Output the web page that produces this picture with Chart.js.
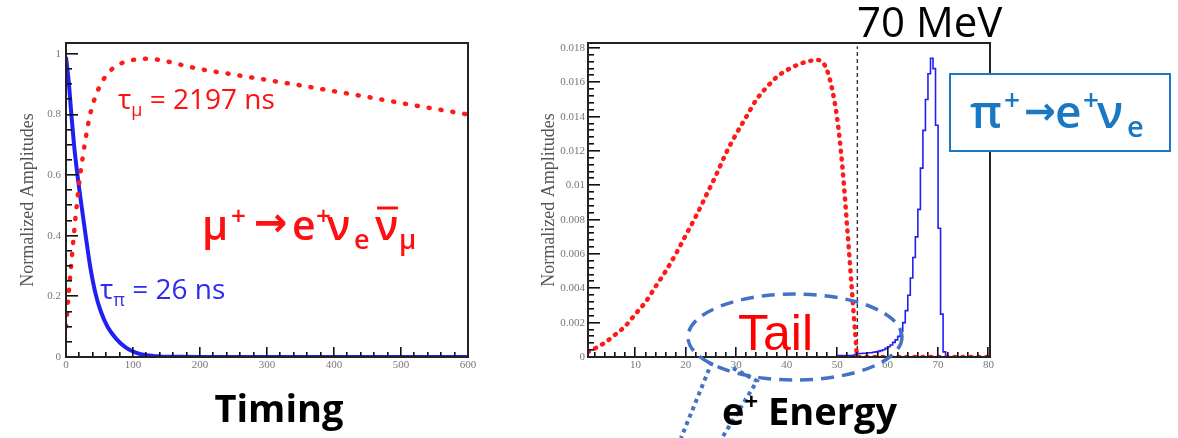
<!DOCTYPE html>
<html>
<head>
<meta charset="utf-8">
<script src="https://cdn.jsdelivr.net/npm/chart.js@4.4.1/dist/chart.umd.min.js"></script>
<style>
  html, body { margin: 0; padding: 0; background: #fff; }
  #page { position: relative; width: 1178px; height: 438px; overflow: hidden; }
  canvas { position: absolute; top: 0; }
  #timingChart { left: 0; }
  #energyChart { left: 540px; }
  #notes { position: absolute; left: 0; top: 0; }
</style>
</head>
<body>
<div id="page">
  <canvas id="timingChart" width="480" height="380"></canvas>
  <canvas id="energyChart" width="460" height="380"></canvas>
  <svg id="notes" width="1178" height="438" xmlns="http://www.w3.org/2000/svg">
    <!-- left panel labels -->
    <text x="118" y="109" font-family="Open Sans" font-size="28" fill="#ff1010">τ<tspan font-size="18" dy="7">μ</tspan><tspan dy="-7"> = 2197 ns</tspan></text>
    <text x="100" y="299" font-family="Open Sans" font-size="28" fill="#2c2cf0">τ<tspan font-size="18" dy="7">π</tspan><tspan dy="-7"> = 26 ns</tspan></text>
    <g font-family="Open Sans" font-size="41" font-weight="600" fill="#ff1010">
      <text x="202" y="240">μ</text>
      <text x="231" y="225" font-size="26">+</text>
      <text x="254" y="236" font-family="DejaVu Sans" font-weight="700" font-size="40">→</text>
      <text x="292" y="240">e</text>
      <text x="316" y="225" font-size="26">+</text>
      <text x="327" y="240">ν</text>
      <text x="354" y="249" font-size="27">e</text>
      <text x="375" y="240">ν</text>
      <text x="399" y="249" font-size="27">μ</text>
    </g>
    <line x1="377" y1="208" x2="398" y2="208" stroke="#ff1010" stroke-width="3"/>
    <text x="279" y="422" font-family="Open Sans" font-size="38" font-weight="700" fill="#000" text-anchor="middle">Timing</text>

    <!-- right panel labels -->
    <text x="857" y="37" font-family="Open Sans" font-size="42" fill="#000">70 MeV</text>
    <rect x="950" y="74" width="220" height="77" fill="#fff" stroke="#1a78c2" stroke-width="2"/>
    <g font-family="Open Sans" font-size="46" font-weight="600" fill="#1a78c2">
      <text x="970" y="128">π</text>
      <text x="1004" y="110" font-size="28">+</text>
      <text x="1024" y="124" font-family="DejaVu Sans" font-weight="700" font-size="38">→</text>
      <text x="1055" y="128">e</text>
      <text x="1083" y="110" font-size="28">+</text>
      <text x="1097" y="128">ν</text>
      <text x="1127" y="137" font-size="29">e</text>
    </g>
    <ellipse cx="795" cy="337" rx="107" ry="43" fill="none" stroke="#4472c4" stroke-width="3.5" stroke-dasharray="13 8"/>
    <text x="738" y="350" font-family="Liberation Sans" font-size="50" fill="#ff0000">Tail</text>
    <polyline points="712,362 681,438" fill="none" stroke="#4472c4" stroke-width="4" stroke-dasharray="4 4"/>
    <polyline points="733,368 757,381 722,438" fill="none" stroke="#4472c4" stroke-width="4" stroke-dasharray="4 4"/>
    <text x="722" y="425" font-family="Open Sans" font-size="38" font-weight="700" fill="#000">e<tspan font-size="24" dy="-15">+</tspan><tspan dy="15"> Energy</tspan></text>
  </svg>
</div>

<script>
// decay time (ns) and normalized amplitudes
const TIME = [0, 4, 8, 12, 16, 20, 25, 30, 36, 44, 52, 62, 75, 90, 105, 120, 140, 170, 200, 250, 300, 350, 400, 450, 500, 550, 600];
const MUON_AMP = [0.10, 0.21, 0.31, 0.41, 0.50, 0.58, 0.66, 0.73, 0.80, 0.86, 0.90, 0.935, 0.96, 0.975, 0.982, 0.984, 0.98, 0.965, 0.95, 0.932, 0.914, 0.896, 0.877, 0.858, 0.838, 0.819, 0.80];
const PION_AMP = [0.99, 0.91, 0.80, 0.70, 0.62, 0.55, 0.47, 0.39, 0.30, 0.21, 0.15, 0.10, 0.06, 0.03, 0.014, 0.006, 0.002, 0.0005, 0, 0, 0, 0, 0, 0, 0, 0, 0];
const TIME_TICKS = [0, 100, 200, 300, 400, 500, 600];
const AMP_TICKS = [0, 0.2, 0.4, 0.6, 0.8, 1];

// positron energy (MeV): Michel spectrum and pi -> e nu histogram
const ENERGY_MU = [0.6, 2, 4, 6, 8, 10, 12, 14, 16, 18, 20, 22, 24, 26, 28, 30, 32, 34, 36, 38, 40, 42, 44, 46, 47, 48, 49, 50, 51, 52, 53, 53.6, 54, 56, 58, 60, 62, 64, 66, 68, 70, 72, 74, 76, 78, 80];
const MICHEL = [0.0003, 0.0005, 0.00085, 0.0013, 0.0018, 0.0025, 0.0032, 0.0041, 0.0050, 0.0060, 0.0071, 0.0082, 0.0094, 0.0106, 0.0119, 0.0130, 0.0140, 0.0150, 0.0157, 0.0163, 0.0167, 0.0170, 0.0172, 0.0173, 0.0172, 0.0167, 0.0156, 0.0139, 0.0112, 0.0075, 0.0036, 0.0013, 0, 0, 0, 0, 0, 0, 0, 0, 0, 0, 0, 0, 0, 0];
const PI_BIN = [50, 50.5, 51, 51.5, 52, 52.5, 53, 53.5, 54, 54.5, 55, 55.5, 56, 56.5, 57, 57.5, 58, 58.5, 59, 59.5, 60, 60.5, 61, 61.5, 62, 62.5, 63, 63.5, 64, 64.5, 65, 65.5, 66, 66.5, 67, 67.5, 68, 68.5, 69, 69.5, 70, 70.5, 71, 71.5, 72];
const PI_COUNTS = [0.00008, 0.00008, 0.00008, 0.00008, 0.00008, 0.00008, 0.00008, 0.0001, 0.00015, 0.0002, 0.0002, 0.00022, 0.00022, 0.00025, 0.00025, 0.00028, 0.0003, 0.00033, 0.00037, 0.00042, 0.0005, 0.0006, 0.0007, 0.00085, 0.001, 0.0012, 0.0015, 0.002, 0.0027, 0.0036, 0.0046, 0.0058, 0.007, 0.0086, 0.011, 0.0132, 0.015, 0.0165, 0.0174, 0.0168, 0.0135, 0.0075, 0.0025, 0.0003, 0];
const CUTOFF_MEV = 54;
const ENERGY_TICKS = [10, 20, 30, 40, 50, 60, 70, 80];
const SPEC_TICKS = [0, 0.002, 0.004, 0.006, 0.008, 0.01, 0.012, 0.014, 0.016, 0.018];

const RED = '#ff1a1a';
const BLUE = '#2020f4';

const pts = (xs, ys) => xs.map((x, i) => ({ x: x, y: ys[i] }));

// ROOT-like frame with inward ticks on left and bottom edges
function rootFrame(t) {
    return {
        id: 'rootFrame',
        afterDraw(chart) {
            const ctx = chart.ctx;
            const a = chart.chartArea;
            const xs = chart.scales.x, ys = chart.scales.y;
            ctx.save();
            ctx.fillStyle = '#111';
            let v = t.xFrom;
            while (v <= xs.max + 1e-9) {
                const px = Math.round(xs.getPixelForValue(v));
                const len = t.xMajor.indexOf(Math.round(v * 1e6) / 1e6) >= 0 ? 10 : 5;
                ctx.fillRect(px - 1, a.bottom - len, 1.6, len);
                v += t.xMinor;
            }
            v = 0;
            while (v <= ys.max + 1e-12) {
                const py = Math.round(ys.getPixelForValue(v));
                const len = t.yMajor.indexOf(Math.round(v * 1e6) / 1e6) >= 0 ? 12 : 6;
                ctx.fillRect(a.left, py - 1, len, 1.6);
                v += t.yMinor;
            }
            ctx.strokeStyle = '#222';
            ctx.lineWidth = 2;
            ctx.strokeRect(a.left, a.top, a.right - a.left, a.bottom - a.top);
            ctx.restore();
        }
    };
}

function axisOptions(cfg) {
    const tickFont = { family: "'Liberation Serif', serif", size: 11 };
    return {
        x: {
            type: 'linear', min: cfg.xMin, max: cfg.xMax,
            grid: { display: false, drawTicks: false }, border: { display: false },
            afterBuildTicks: s => { s.ticks = cfg.xTicks.map(v => ({ value: v })); },
            afterFit: s => { s.height = 23; },
            ticks: { color: '#777', font: tickFont, padding: 2, maxRotation: 0, autoSkip: false,
                     callback: v => String(v) }
        },
        y: {
            type: 'linear', min: 0, max: cfg.yMax,
            grid: { display: false, drawTicks: false }, border: { display: false },
            afterBuildTicks: s => { s.ticks = cfg.yTicks.map(v => ({ value: v })); },
            afterFit: s => { s.width = cfg.yWidth; },
            ticks: { color: '#777', font: tickFont, padding: cfg.yPad, autoSkip: false,
                     callback: v => String(+v.toFixed(4)) },
            title: { display: true, text: 'Normalized Amplitudes', color: '#555',
                     font: { family: "'Liberation Serif', serif", size: 18, lineHeight: 1 },
                     padding: { top: cfg.titlePad, bottom: 0 } }
        }
    };
}

const timingCanvas = document.getElementById('timingChart');
new Chart(timingCanvas.getContext('2d'), {
    type: 'line',
    data: {
        datasets: [{
            label: 'mu',
            data: pts(TIME, MUON_AMP),
            borderColor: RED,
            borderWidth: 4.5,
            borderDash: [1, 11],
            borderCapStyle: 'round',
            cubicInterpolationMode: 'monotone',
            pointRadius: 0,
            order: 1
        }, {
            label: 'pi',
            data: pts(TIME, PION_AMP),
            borderColor: BLUE,
            borderWidth: 4,
            cubicInterpolationMode: 'monotone',
            pointRadius: 0,
            order: 2
        }]
    },
    options: {
        responsive: false,
        animation: false,
        layout: { padding: { top: 43, right: 12 } },
        plugins: { legend: { display: false }, tooltip: { enabled: false } },
        scales: axisOptions({ xMin: 0, xMax: 600, xTicks: TIME_TICKS, yMax: 1.036, yTicks: AMP_TICKS,
                              yWidth: 66, yPad: 5, titlePad: 19 })
    },
    plugins: [rootFrame({ xFrom: 0, xMinor: 20, xMajor: TIME_TICKS, yMinor: 0.05, yMajor: AMP_TICKS })]
});

const energyCanvas = document.getElementById('energyChart');
new Chart(energyCanvas.getContext('2d'), {
    type: 'line',
    data: {
        datasets: [{
            label: 'michel',
            data: pts(ENERGY_MU, MICHEL),
            borderColor: RED,
            borderWidth: 4.5,
            borderDash: [1, 7],
            borderCapStyle: 'round',
            cubicInterpolationMode: 'monotone',
            pointRadius: 0,
            order: 1
        }, {
            label: 'pienu',
            data: pts(PI_BIN, PI_COUNTS),
            borderColor: BLUE,
            borderWidth: 1.6,
            stepped: 'after',
            pointRadius: 0,
            order: 2
        }, {
            label: 'cutoff',
            data: [{ x: CUTOFF_MEV, y: 0 }, { x: CUTOFF_MEV, y: 0.0181 }],
            borderColor: '#333',
            borderWidth: 1.4,
            borderDash: [4, 3],
            pointRadius: 0,
            order: 3
        }]
    },
    options: {
        responsive: false,
        animation: false,
        layout: { padding: { top: 43, right: 10 } },
        plugins: { legend: { display: false }, tooltip: { enabled: false } },
        scales: axisOptions({ xMin: 0.6, xMax: 80.3, xTicks: ENERGY_TICKS, yMax: 0.01829, yTicks: SPEC_TICKS,
                              yWidth: 48, yPad: 3, titlePad: 0 })
    },
    plugins: [rootFrame({ xFrom: 2, xMinor: 2, xMajor: ENERGY_TICKS, yMinor: 0.0004, yMajor: SPEC_TICKS })]
});
</script>
</body>
</html>
